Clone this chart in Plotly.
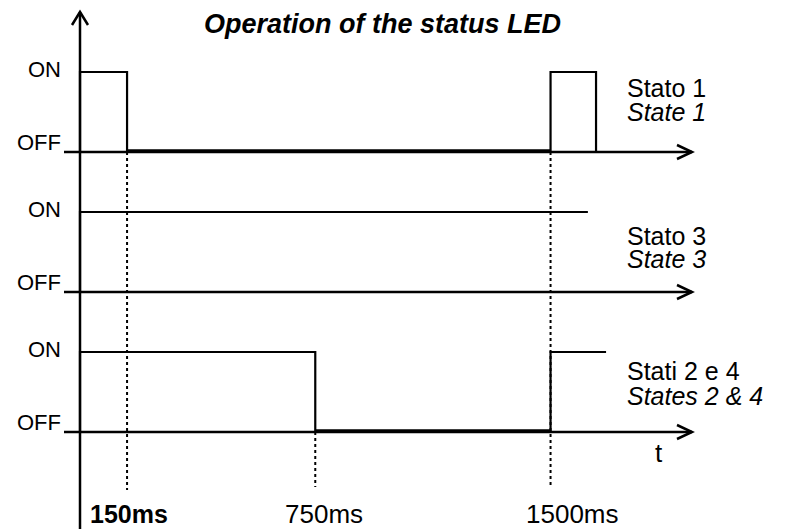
import plotly.graph_objects as go

# ---------------- data ----------------
title_text = "Operation of the status LED"
level_labels = ["OFF", "ON"]
lane_labels_it = ["Stato 1", "Stato 3", "Stati 2 e 4"]
lane_labels_en = ["State 1", "State 3", "States 2 & 4"]

# step signals: time (ms) of each point, level (0 = OFF, 1 = ON), drawn as hv steps
state1_t = [0, 0, 150, 1500, 1645]
state1_v = [0, 1, 0, 1, 0]
state3_t = [0, 0, 1619]
state3_v = [0, 1, 1]
state24_t = [0, 0, 750, 1500, 1677]
state24_v = [0, 1, 0, 1, 1]

tick_ms = [150, 750, 1500]
tick_labels = ["150ms", "750ms", "1500ms"]
time_axis_label = "t"

# ---------------- layout helpers ----------------
W, H = 792, 529
PAGE_MARGIN = 8            # default body margin of the html page
PX_PER_MS = 0.3137
ORIGIN_PX = 80
def px2ms(px):
    return (px - ORIGIN_PX) / PX_PER_MS
def dms(px):
    return px / PX_PER_MS

OFF_Y = [152, 292, 432]     # y in reference-pixel units (axis reversed)
SWING = 80
FONT = "Liberation Sans, Arial, sans-serif"
BLACK = "#000000"

lanes = [(state1_t, state1_v), (state3_t, state3_v), (state24_t, state24_v)]

fig = go.Figure()
shapes = []
annotations = []

axis_start = px2ms(64)
axis_tip = px2ms(692)

for i, (t, v) in enumerate(lanes):
    base = OFF_Y[i]
    y = [base - SWING * s for s in v]
    # time axis of the lane
    fig.add_trace(go.Scatter(x=[axis_start, axis_tip], y=[base, base], mode="lines",
                             line=dict(color=BLACK, width=2.5), hoverinfo="skip", showlegend=False))
    shapes.append(dict(type="path", xref="x", yref="y",
                       path=f"M {axis_tip - dms(15)},{base - 7} L {axis_tip},{base} L {axis_tip - dms(15)},{base + 7}",
                       line=dict(color=BLACK, width=2.5)))
    # signal
    fig.add_trace(go.Scatter(x=t, y=y, mode="lines", line=dict(color=BLACK, width=2.2, shape="hv"),
                             hoverinfo="skip", showlegend=False))
    # thicker OFF stretches
    for k in range(len(t) - 1):
        if v[k] == 0 and t[k + 1] > t[k]:
            fig.add_trace(go.Scatter(x=[t[k], t[k + 1]], y=[base - 1, base - 1], mode="lines",
                                     line=dict(color=BLACK, width=3.5), hoverinfo="skip", showlegend=False))
    # ON / OFF labels
    annotations.append(dict(x=0, y=base - 10, xref="x", yref="y", xshift=-17, xanchor="right",
                            yanchor="middle", text=level_labels[0], showarrow=False,
                            font=dict(family=FONT, size=22, color=BLACK)))
    annotations.append(dict(x=0, y=base - SWING - 3, xref="x", yref="y", xshift=-17, xanchor="right",
                            yanchor="middle", text=level_labels[1], showarrow=False,
                            font=dict(family=FONT, size=22, color=BLACK)))

# right-hand lane names
it_y = [88, 236, 371]
en_y = [112, 259, 396]
for i in range(3):
    annotations.append(dict(x=px2ms(625), y=it_y[i], xref="x", yref="y", xanchor="left", yanchor="middle",
                            text=lane_labels_it[i], showarrow=False,
                            font=dict(family=FONT, size=25, color=BLACK)))
    annotations.append(dict(x=px2ms(625), y=en_y[i], xref="x", yref="y", xanchor="left", yanchor="middle",
                            text=f"<i>{lane_labels_en[i]}</i>", showarrow=False,
                            font=dict(family=FONT, size=25, color=BLACK)))

# vertical axis with arrow
fig.add_trace(go.Scatter(x=[0, 0], y=[H, 12], mode="lines", line=dict(color=BLACK, width=2.5),
                         hoverinfo="skip", showlegend=False))
shapes.append(dict(type="path", xref="x", yref="y",
                   path=f"M {-dms(8)},{25} L 0,12 L {dms(8)},{25}",
                   line=dict(color=BLACK, width=2.5)))

# dotted guides
guide_bottom = [490, 487, 487]
label_shift = [2, 9, 22]
for j, tm in enumerate(tick_ms):
    start_lane = next(i for i, (t, v) in enumerate(lanes) if tm in t)
    fig.add_trace(go.Scatter(x=[tm, tm], y=[OFF_Y[start_lane], guide_bottom[j]], mode="lines",
                             line=dict(color=BLACK, width=2, dash="dot"), hoverinfo="skip", showlegend=False))
    txt = f"<b>{tick_labels[j]}</b>" if j == 0 else tick_labels[j]
    annotations.append(dict(x=tm, y=514, xref="x", yref="y", xshift=label_shift[j], xanchor="center",
                            yanchor="middle", text=txt, showarrow=False,
                            font=dict(family=FONT, size=26 if j else 25, color=BLACK)))

# time label
annotations.append(dict(x=px2ms(659), y=453, xref="x", yref="y", xanchor="center", yanchor="middle",
                        text=time_axis_label, showarrow=False, font=dict(family=FONT, size=26, color=BLACK)))

# title
annotations.append(dict(x=px2ms(382), y=PAGE_MARGIN, xref="x", yref="y", xanchor="center", yanchor="top",
                        text=f"<b><i>{title_text}</i></b>", showarrow=False, borderpad=0,
                        font=dict(family=FONT, size=27, color=BLACK)))

fig.update_layout(
    width=W - PAGE_MARGIN, height=H - PAGE_MARGIN, margin=dict(l=0, r=0, t=0, b=0),
    paper_bgcolor="white", plot_bgcolor="white",
    xaxis=dict(range=[px2ms(PAGE_MARGIN), px2ms(W)], visible=False, fixedrange=True),
    yaxis=dict(range=[H, PAGE_MARGIN], visible=False, fixedrange=True),
    shapes=shapes, annotations=annotations, showlegend=False,
)

fig.write_html("out.html")
